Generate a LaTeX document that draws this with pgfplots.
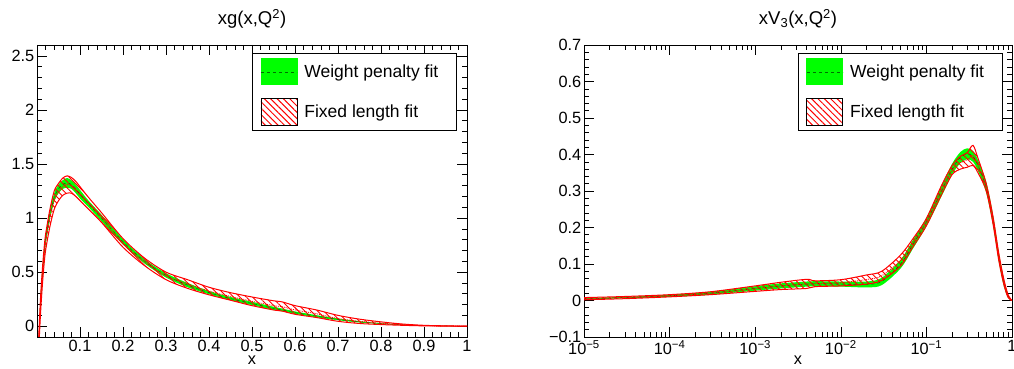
\documentclass[border=0pt]{standalone}
\usepackage{pgfplots}
\pgfplotsset{compat=1.18}
\usepackage{pgfplotstable}
\usepgfplotslibrary{fillbetween}
\usetikzlibrary{patterns.meta}
\usepackage{fontspec}
\setmainfont{Liberation Sans}
\definecolor{rgreen}{RGB}{0,255,0}
\definecolor{dgreen}{RGB}{0,110,0}
\definecolor{rred}{RGB}{255,0,0}

\pgfplotstableread{
x c gl gu rl ru rc
0.004 -0.15 -0.19 -0.11 -0.22 -0.10 -0.16
0.008 0.20 0.15 0.25 0.10 0.25 0.175
0.012 0.45 0.40 0.50 0.35 0.50 0.425
0.016 0.65 0.60 0.70 0.55 0.70 0.625
0.02 0.80 0.75 0.85 0.70 0.85 0.775
0.03 1.03 0.99 1.07 0.92 1.08 1.00
0.04 1.19 1.15 1.23 1.08 1.25 1.165
0.05 1.27 1.23 1.31 1.16 1.32 1.24
0.06 1.31 1.27 1.35 1.21 1.37 1.29
0.07 1.325 1.28 1.37 1.23 1.39 1.31
0.08 1.31 1.27 1.35 1.23 1.375 1.30
0.09 1.27 1.23 1.31 1.20 1.34 1.27
0.10 1.22 1.18 1.26 1.16 1.29 1.225
0.12 1.13 1.10 1.16 1.08 1.19 1.135
0.15 1.00 0.97 1.03 0.96 1.05 1.005
0.20 0.78 0.755 0.805 0.73 0.81 0.77
0.25 0.60 0.58 0.62 0.56 0.63 0.595
0.30 0.47 0.45 0.49 0.43 0.50 0.465
0.35 0.38 0.36 0.40 0.35 0.43 0.39
0.40 0.31 0.295 0.325 0.29 0.36 0.325
0.45 0.255 0.24 0.27 0.24 0.31 0.275
0.50 0.21 0.195 0.225 0.19 0.27 0.23
0.55 0.165 0.15 0.18 0.15 0.235 0.19
0.57 0.15 0.137 0.163 0.14 0.225 0.18
0.60 0.125 0.113 0.137 0.11 0.19 0.15
0.65 0.092 0.082 0.102 0.08 0.15 0.115
0.70 0.063 0.055 0.071 0.045 0.10 0.07
0.75 0.04 0.034 0.046 0.025 0.065 0.045
0.80 0.024 0.02 0.028 0.015 0.04 0.027
0.85 0.013 0.01 0.016 0.008 0.02 0.014
0.90 0.006 0.004 0.008 0.003 0.008 0.005
0.95 0.002 0.001 0.003 0.001 0.003 0.002
1.00 0 0 0 0 0 0
}\gdata

\pgfplotstableread{
x c gl gu rl ru rc
1e-5 0.005 0.003 0.007 0.002 0.008 0.005
3e-5 0.008 0.006 0.010 0.005 0.011 0.008
1e-4 0.013 0.010 0.016 0.010 0.016 0.013
3e-4 0.020 0.016 0.024 0.016 0.024 0.020
1e-3 0.033 0.027 0.039 0.025 0.040 0.0325
2e-3 0.040 0.033 0.047 0.030 0.050 0.040
4e-3 0.045 0.038 0.052 0.033 0.058 0.0455
5e-3 0.046 0.039 0.053 0.038 0.054 0.046
1e-2 0.045 0.038 0.052 0.040 0.057 0.0485
2e-2 0.044 0.036 0.052 0.045 0.070 0.0575
3e-2 0.052 0.042 0.062 0.055 0.080 0.0675
5e-2 0.100 0.088 0.112 0.095 0.125 0.110
7e-2 0.155 0.143 0.167 0.148 0.170 0.159
0.1 0.215 0.203 0.227 0.205 0.225 0.215
0.15 0.300 0.285 0.315 0.290 0.315 0.3025
0.2 0.360 0.345 0.375 0.345 0.370 0.3575
0.25 0.392 0.377 0.407 0.360 0.395 0.3775
0.3 0.402 0.387 0.417 0.365 0.405 0.385
0.35 0.395 0.380 0.410 0.370 0.425 0.3975
0.4 0.370 0.355 0.385 0.350 0.390 0.37
0.5 0.310 0.295 0.325 0.300 0.320 0.31
0.6 0.220 0.205 0.235 0.210 0.230 0.22
0.7 0.120 0.107 0.133 0.110 0.130 0.12
0.8 0.050 0.040 0.060 0.045 0.060 0.0525
0.9 0.012 0.007 0.017 0.008 0.016 0.012
1.0 0.000 0.000 0.000 0.000 0.000 0
}\vdata

\pgfplotsset{rootstyle/.style={
  scale only axis, height=292pt,
  tick align=inside, major tick length=10pt, minor tick length=5pt,
  every tick/.style={black, line width=0.6pt},
  axis line style={line width=0.8pt},
  tick label style={font=\fontsize{16.3}{18}\selectfont},
  yticklabel style={inner xsep=2.5pt},
  /pgf/number format/assume math mode=true,
  xlabel={x},
  xlabel style={at={(axis description cs:0.5,0)}, anchor=north, inner sep=0pt, yshift=-19pt, font=\fontsize{16.3}{18}\selectfont},
  title style={at={(axis description cs:0.5,1)}, anchor=base, yshift=14.3pt, inner sep=0pt, font=\fontsize{18.5}{20}\selectfont},
  legend cell align=left,
  legend style={at={(0.5,0.9726)}, anchor=north west, draw=black, line width=0.8pt, fill=white,
    inner xsep=8pt, inner ysep=5pt, row sep=12.5pt, column sep=7pt,
    nodes={inner sep=0pt, font=\fontsize{17.5}{19}\selectfont}},
}}

\newcommand{\legendentries}{%
  \addlegendimage{legend image code/.code={\fill[rgreen] (0pt,-13pt) rectangle (36pt,13pt); \draw[dgreen,dashed,line width=0.5pt] (0pt,0pt)--(36pt,0pt);}}
  \addlegendentry{Weight penalty fit\hspace*{10pt}}
  \addlegendimage{legend image code/.code={\fill[pattern={Lines[angle=-45,distance=4.5pt,line width=1pt]},pattern color=rred] (0pt,-13.5pt) rectangle (36pt,13.5pt);}}
  \addlegendentry{Fixed length fit}
}

\newcommand{\bands}[1]{%
  \addplot[draw=none, smooth, name path=gu, forget plot] table[x=x,y=gu] {#1};
  \addplot[draw=none, smooth, name path=gl, forget plot] table[x=x,y=gl] {#1};
  \addplot[rgreen, forget plot] fill between[of=gu and gl];
  \addplot[dgreen, dashed, line width=0.5pt, smooth, forget plot] table[x=x,y=c] {#1};
  \addplot[draw=none, smooth, name path=ru, forget plot] table[x=x,y=ru] {#1};
  \addplot[draw=none, smooth, name path=rl, forget plot] table[x=x,y=rl] {#1};
  \addplot[pattern={Lines[angle=-45,distance=4.5pt,line width=0.9pt]}, pattern color=rred, draw=none, forget plot] fill between[of=ru and rl];
  \addplot[rred, densely dotted, line width=0.9pt, smooth, forget plot] table[x=x,y=rc] {#1};
  \addplot[rred, line width=1pt, smooth, forget plot] table[x=x,y=ru] {#1};
  \addplot[rred, line width=1pt, smooth, forget plot] table[x=x,y=rl] {#1};
}

\begin{document}
\begin{tikzpicture}
\begin{axis}[rootstyle, at={(37pt,32pt)}, anchor=south west, width=430pt,
  xmin=0, xmax=1, ymin=-0.1, ymax=2.6,
  xtick={0,0.1,0.2,0.3,0.4,0.5,0.6,0.7,0.8,0.9,1},
  xticklabels={,0.1,0.2,0.3,0.4,0.5,0.6,0.7,0.8,0.9,1},
  ytick={0,0.5,1,1.5,2,2.5},
  yticklabels={0,0.5,1,1.5,2,2.5},
  minor x tick num=4, minor y tick num=4,
  title={xg(x,Q\textsuperscript{2})}]
\legendentries
\bands{\gdata}
\end{axis}
\begin{axis}[rootstyle, xmode=log, at={(584pt,32pt)}, anchor=south west, width=428pt,
  xmin=1e-5, xmax=1, ymin=-0.1, ymax=0.7,
  xtick={1e-5,1e-4,1e-3,1e-2,1e-1,1},
  xticklabels={10\textsuperscript{−5},10\textsuperscript{−4},10\textsuperscript{−3},10\textsuperscript{−2},10\textsuperscript{−1},1},
  ytick={-0.1,0,0.1,0.2,0.3,0.4,0.5,0.6,0.7},
  yticklabels={−0.1,0,0.1,0.2,0.3,0.4,0.5,0.6,0.7},
  minor y tick num=4,
  title={xV\textsubscript{3}(x,Q\textsuperscript{2})}]
\legendentries
\bands{\vdata}
\end{axis}
\pgfresetboundingbox
\path[use as bounding box] (0,0) rectangle (1014pt,369pt);
\end{tikzpicture}
\end{document}
